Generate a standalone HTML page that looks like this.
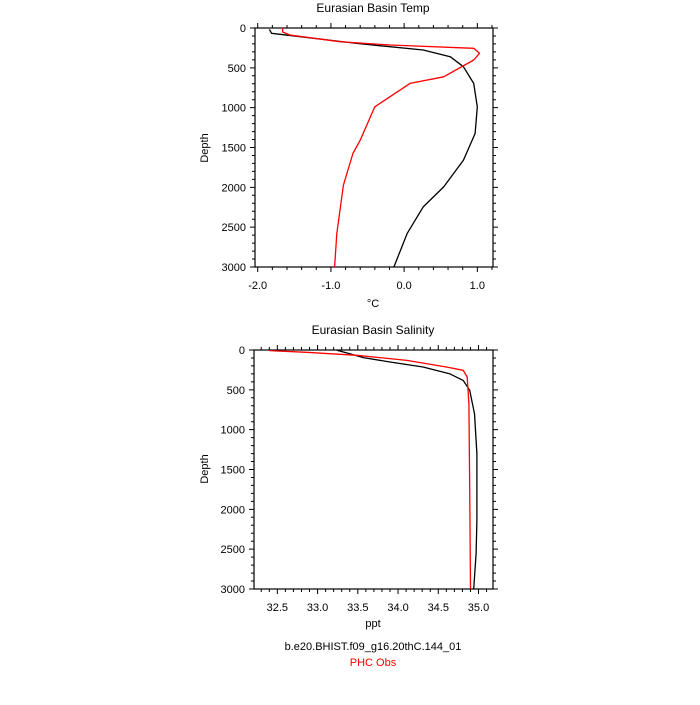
<!DOCTYPE html>
<html><head><meta charset="utf-8"><style>
body{margin:0;background:#fff}
svg{font-family:"Liberation Sans",Arial,sans-serif}
</style></head><body>
<svg id="c" width="700" height="700" viewBox="0 0 700 700">
<text x="373" y="12" text-anchor="middle" font-size="12">Eurasian Basin Temp</text>
<text x="373" y="334" text-anchor="middle" font-size="12">Eurasian Basin Salinity</text>
<text x="373" y="307" text-anchor="middle" font-size="11">°C</text>
<text x="373" y="627" text-anchor="middle" font-size="11">ppt</text>
<text transform="translate(208,148) rotate(-90)" text-anchor="middle" font-size="11">Depth</text>
<text transform="translate(208,469) rotate(-90)" text-anchor="middle" font-size="11">Depth</text>
<text x="373" y="650" text-anchor="middle" font-size="11">b.e20.BHIST.f09_g16.20thC.144_01</text>
<text x="373" y="666" text-anchor="middle" font-size="11" fill="#ff0000">PHC Obs</text>
</svg>
<script>
const tempDepth=[17,67,193,276,360,486,695,990,1324,1659,1994,2246,2581,3000];
const tempModel=[-1.84,-1.81,-0.65,0.26,0.63,0.81,0.95,1.0,0.97,0.81,0.54,0.26,0.04,-0.14];
const tempObsDepth=[0,50,88,172,214,255,318,402,612,695,989,1408,1575,1973,2581,3000];
const tempObs=[-1.66,-1.66,-1.56,-0.88,-0.19,0.95,1.03,0.95,0.54,0.08,-0.40,-0.60,-0.70,-0.83,-0.92,-0.95];
const salDepth=[4,46,96,151,213,297,381,506,799,1301,2138,2556,3000];
const salModel=[33.24,33.40,33.57,33.90,34.31,34.64,34.81,34.89,34.95,34.98,34.98,34.97,34.94];
const salObsDepth=[8,29,67,130,213,255,339,674,1720,3000];
const salObs=[32.40,32.86,33.49,34.11,34.60,34.81,34.86,34.88,34.89,34.90];
const tempTicks=["-2.0","-1.0","0.0","1.0"];
const salTicks=["32.5","33.0","33.5","34.0","34.5","35.0"];
const depthTicks=["0","500","1000","1500","2000","2500","3000"];
const svg=document.getElementById('c');
const NS='http://www.w3.org/2000/svg';
function mk(t,a){const e=document.createElementNS(NS,t);for(const k in a)e.setAttribute(k,a[k]);svg.appendChild(e);return e;}
function panel(p,name){
  const sx=v=>p.x0+(v-p.xmin)/(p.xmax-p.xmin)*(p.x1-p.x0);
  const sy=d=>p.y0+d/3000*(p.y1-p.y0);
  // minor/major ticks
  let d='';
  for(let v=0;v<=3000;v+=100){const y=sy(v);const L=v%500===0?5:3;d+=`M${p.x0-L},${y}H${p.x0}M${p.x1},${y}H${p.x1+L}`;}
  const n=Math.round((p.xmax-p.xmin)/p.minor)+2;
  for(let i=-n;i<=n*2;i++){const v=p.minorStart+i*p.minor;if(v<p.xmin-1e-9||v>p.xmax+1e-9)continue;const x=sx(v);
    const maj=Math.abs(v/p.major-Math.round(v/p.major))<1e-6;const L=maj?5:3;d+=`M${x},${p.y1}V${p.y1+L}M${x},${p.y0}V${p.y0-L}`;}
  let t=mk('path',{d:d,stroke:'#000','stroke-width':1,fill:'none'});
  
  
  let f=mk('rect',{x:p.x0,y:p.y0,width:p.x1-p.x0,height:p.y1-p.y0,fill:'none',stroke:'#000','stroke-width':1.2});
  
  
  p.xt.forEach(s=>{const e=mk('text',{x:sx(parseFloat(s)),y:p.y1+22,'text-anchor':'middle','font-size':11});e.textContent=s;
    
    });
  depthTicks.forEach(s=>{const e=mk('text',{x:p.x0-9,y:sy(+s)+4,'text-anchor':'end','font-size':11});e.textContent=s;
    
    });
  function line(xs,ds,col,nm){const pts=xs.map((v,i)=>sx(v).toFixed(1)+','+sy(ds[i]).toFixed(1)).join(' ');
    const e=mk('polyline',{points:pts,fill:'none',stroke:col,'stroke-width':1.3,'stroke-linejoin':'round'});
    
    }
  line(p.m,p.md,'#000',name+'-model-line');
  line(p.o,p.od,'#ff0000',name+'-obs-line');
}
panel({x0:255,x1:493,y0:28,y1:267,xmin:-2.037,xmax:1.214,major:1,minor:0.2,minorStart:-2,xt:tempTicks,m:tempModel,md:tempDepth,o:tempObs,od:tempObsDepth},'temp');
panel({x0:254,x1:493,y0:350,y1:589,xmin:32.21,xmax:35.18,major:0.5,minor:0.1,minorStart:32.5,xt:salTicks,m:salModel,md:salDepth,o:salObs,od:salObsDepth},'salinity');
</script>
</body></html>
